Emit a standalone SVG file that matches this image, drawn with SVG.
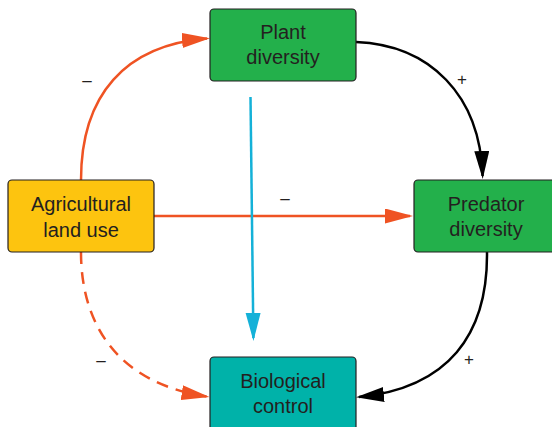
<svg xmlns="http://www.w3.org/2000/svg" width="552" height="427" viewBox="0 0 552 427">
<defs>
<style>
.box{stroke:#231f20;stroke-width:1.2}
.t{font-family:"Liberation Sans",Arial,sans-serif;font-size:20px;fill:#231f20;text-anchor:middle}
.l{font-family:"Liberation Sans",Arial,sans-serif;font-size:17px;fill:#231f20;text-anchor:middle}
.c{fill:none;stroke-width:2.5}
.or{stroke:#ef5323}
.bk{stroke:#000}
.bl{stroke:#14b1d8}
</style>
<marker id="aO" markerUnits="userSpaceOnUse" markerWidth="30" markerHeight="16" refX="25" refY="7.5" orient="auto"><path d="M0,0 L28,7.5 L0,15 z" fill="#ef5323"/></marker>
<marker id="aK" markerUnits="userSpaceOnUse" markerWidth="30" markerHeight="16" refX="25" refY="7.5" orient="auto"><path d="M0,0 L28,7.5 L0,15 z" fill="#000"/></marker>
<marker id="aB" markerUnits="userSpaceOnUse" markerWidth="30" markerHeight="16" refX="25" refY="7.5" orient="auto"><path d="M0,0 L28,7.5 L0,15 z" fill="#14b1d8"/></marker>
</defs>
<g id="connectors">
<path class="c or" d="M81,180 C81,95 125,45 207,38.5" marker-end="url(#aO)"/>
<path class="c bk" d="M356,42 C430,45 480,95 482.6,176" marker-end="url(#aK)"/>
<path class="c or" d="M154,216 L410,216" marker-end="url(#aO)"/>
<path class="c bl" d="M250.5,97 L253.4,338" marker-end="url(#aB)"/>
<path class="c or" d="M81,252 C81,325 118,383 206.5,396.5" stroke-dasharray="12,8" marker-end="url(#aO)"/>
<path class="c bk" d="M487,252 C488,335 448,388 359,397" marker-end="url(#aK)"/>
<text class="l" x="87" y="86">–</text>
<text class="l" x="462" y="85">+</text>
<text class="l" x="285" y="204">–</text>
<text class="l" x="101" y="366">–</text>
<text class="l" x="469" y="365">+</text>
</g>
<g id="plant">
<rect class="box" x="210" y="9" width="146" height="72" rx="4" fill="#23b04b"/>
<text class="t" x="283" y="39">Plant</text>
<text class="t" x="283" y="64">diversity</text>
</g>
<g id="agri">
<rect class="box" x="8" y="180" width="146" height="72" rx="4" fill="#fdc40f"/>
<text class="t" x="81" y="211">Agricultural</text>
<text class="t" x="81" y="237">land use</text>
</g>
<g id="predator">
<rect class="box" x="414" y="180" width="146" height="72" rx="4" fill="#23b04b"/>
<text class="t" x="486" y="211">Predator</text>
<text class="t" x="486" y="236">diversity</text>
</g>
<g id="bio">
<rect class="box" x="210" y="357" width="146" height="80" rx="4" fill="#00b2a9"/>
<text class="t" x="283" y="388">Biological</text>
<text class="t" x="283" y="413">control</text>
</g>
</svg>
